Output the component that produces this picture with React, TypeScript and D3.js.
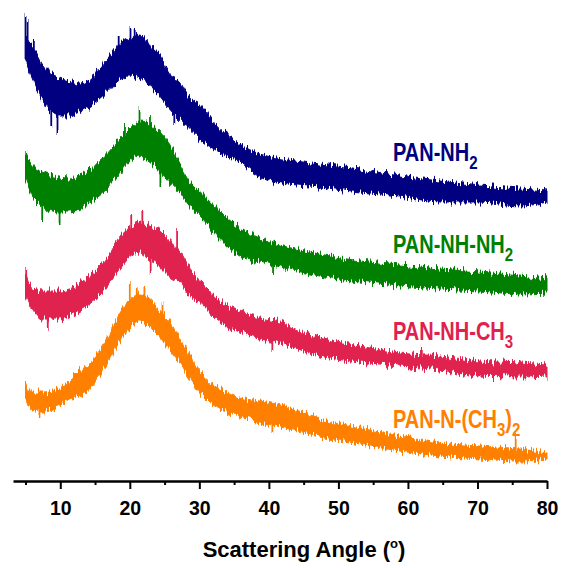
import React, {useEffect, useRef} from 'react';
import * as d3 from 'd3';

// scattering angles (deg) where the band edges were read
const angles = [5, 6, 7.4, 9.9, 11.3, 12.7, 14.2, 15.6, 17.1, 18.5, 19.9, 21.4, 22.8, 24.3, 25.7, 27.1, 28.6, 30, 32.9, 35.8, 38.7, 41.1, 47.3, 53.1, 58.8, 64.6, 70.3, 76.1, 80];

// intensity (a.u., stacked with offsets) - upper / lower edge of each noisy trace
const nh2Top = [446, 436, 418, 404, 401, 398, 401, 414, 426, 438, 444, 448, 438, 428, 408, 401, 384, 378, 354, 338, 328, 324, 318, 313, 306, 301, 296, 293, 291];
const nh2Bot = [419, 401, 381, 364, 364, 368, 374, 381, 391, 401, 404, 401, 394, 384, 371, 361, 351, 341, 328, 318, 304, 298, 293, 288, 284, 278, 278, 274, 278];

const nhnh2Top = [326, 318, 309, 304, 303, 306, 311, 321, 331, 343, 353, 361, 359, 349, 338, 319, 301, 291, 271, 254, 244, 238, 228, 221, 217, 213, 210, 206, 203];
const nhnh2Bot = [301, 284, 274, 268, 268, 271, 278, 284, 294, 306, 318, 324, 319, 309, 298, 288, 274, 264, 241, 224, 218, 214, 204, 198, 194, 191, 189, 186, 187];

const nhch3Top = [209, 194, 191, 191, 193, 198, 206, 214, 228, 244, 254, 259, 256, 251, 241, 231, 214, 203, 181, 171, 164, 161, 144, 136, 129, 126, 121, 119, 117];
const nhch3Bot = [184, 171, 161, 161, 164, 169, 176, 184, 198, 211, 223, 228, 221, 214, 204, 198, 184, 178, 158, 148, 141, 138, 124, 118, 114, 110, 104, 103, 104];

const nch32Top = [98, 89, 89, 94, 101, 111, 118, 131, 148, 168, 181, 188, 184, 171, 161, 144, 128, 111, 94, 84, 81, 78, 64, 54, 46, 39, 36, 33, 29];
const nch32Bot = [81, 71, 69, 74, 81, 84, 91, 104, 121, 138, 151, 158, 154, 144, 131, 118, 101, 88, 71, 64, 58, 54, 44, 36, 29, 24, 21, 19, 21];

// single sharp spikes: [angle, from, to]
const nh2Spikes = [[5.0, 425, 467], [5.3, 420, 462], [6.2, 410, 443], [18.4, 425, 446], [20.1, 430, 455], [20.7, 430, 453], [8.7, 375, 353], [9.6, 378, 349], [26.4, 375, 356], [44, 305, 320]];
const nhnh2Spikes = [[5.1, 305, 329], [21.4, 350, 373], [22.9, 345, 366], [19.3, 340, 356], [9.9, 275, 258], [7.4, 280, 263], [24.4, 315, 296], [40.6, 220, 207]];
const nhch3Spikes = [[5.1, 195, 214], [20.2, 245, 269], [21.8, 250, 270], [26.8, 230, 253], [8.2, 170, 154], [23.0, 225, 208], [62, 122, 134], [40.5, 145, 131]];
const nch32Spikes = [[20.0, 170, 198], [21.0, 178, 193], [22.1, 178, 195], [24.7, 160, 178], [7.0, 76, 64], [75.5, 30, 44], [12.0, 90, 106], [40.5, 60, 48]];

const series = [
  {name: 'nh2', top: nh2Top, bot: nh2Bot, spikes: nh2Spikes, color: '#000080'},
  {name: 'nhnh2', top: nhnh2Top, bot: nhnh2Bot, spikes: nhnh2Spikes, color: '#008000'},
  {name: 'nhch3', top: nhch3Top, bot: nhch3Bot, spikes: nhch3Spikes, color: '#E0214F'},
  {name: 'nch32', top: nch32Top, bot: nch32Bot, spikes: nch32Spikes, color: '#FF8000'},
];

const majorTicks = [10, 20, 30, 40, 50, 60, 70, 80];
const minorTicks = [5, 15, 25, 35, 45, 55, 65, 75];

const font = '"Liberation Sans", Arial, sans-serif';

const App = () => {
  const ref = useRef(null);

  useEffect(() => {
    drawChart();
  });

  function drawChart() {
    const svg = d3.select(ref.current);
    svg.selectAll('*').remove();

    const x = d3.scaleLinear().domain([3.2, 80]).range([13, 547]);
    const y = d3.scaleLinear().domain([0, 481]).range([481, 0]);

    series.forEach(function (s) {
      const pts = angles.map(function (a, i) {
        return {a: a, t: s.top[i], b: s.bot[i]};
      });
      const g = svg.append('g').attr('filter', 'url(#rough)');
      g.append('path')
        .datum(pts)
        .attr('fill', s.color)
        .attr('stroke', s.color)
        .attr('stroke-width', 1)
        .attr('stroke-linejoin', 'round')
        .attr('d', d3.area()
          .curve(d3.curveMonotoneX)
          .x(function (d) { return x(d.a); })
          .y0(function (d) { return y(d.b) - 1; })
          .y1(function (d) { return y(d.t) + 1; })
        );

      g.selectAll('.sp-' + s.name)
        .data(s.spikes)
        .enter()
        .append('line')
        .attr('stroke', s.color)
        .attr('stroke-width', 1.8)
        .attr('x1', function (d) { return x(d[0]); })
        .attr('x2', function (d) { return x(d[0]); })
        .attr('y1', function (d) { return y(d[1]); })
        .attr('y2', function (d) { return y(d[2]); });
    });

    // minor ticks
    svg.append('g')
      .attr('transform', 'translate(0,481)')
      .call(d3.axisBottom(x).tickValues(minorTicks).tickSize(4).tickFormat(function () { return ''; }))
      .call(function (g) { g.select('.domain').remove(); })
      .call(function (g) { g.selectAll('.tick line').attr('stroke', '#000').attr('stroke-width', 2); });

    // major axis
    const ax = svg.append('g')
      .attr('transform', 'translate(0,481)')
      .call(d3.axisBottom(x).tickValues(majorTicks).tickSize(8).tickSizeOuter(0).tickFormat(d3.format('d')));
    ax.select('.domain').attr('stroke', '#000').attr('stroke-width', 2.5);
    ax.selectAll('.tick line').attr('stroke', '#000').attr('stroke-width', 2);
    ax.selectAll('.tick text')
      .attr('y', 20)
      .attr('fill', '#000')
      .style('font-family', font)
      .style('font-weight', 'bold')
      .style('font-size', '19.5px');
  }

  const labelStyle = {fontFamily: font, fontWeight: 'bold', fontSize: 20};
  const sub = {fontSize: 15};

  return (
    <svg width={562} height={568} style={{position: 'absolute', left: 0, top: 0, background: '#fff'}}>
      <defs>
        <filter id="rough" x="-5%" y="-10%" width="110%" height="120%">
          <feTurbulence type="fractalNoise" baseFrequency="0.55 0.02" numOctaves="2" seed="3" result="noise" />
          <feComponentTransfer in="noise" result="vnoise">
            <feFuncG type="linear" slope="0" intercept="0.5" />
          </feComponentTransfer>
          <feDisplacementMap in="SourceGraphic" in2="vnoise" scale="14" xChannelSelector="G" yChannelSelector="R" />
        </filter>
      </defs>
      <g ref={ref}></g>
      <g transform="translate(393,161) scale(1,1.25)" style={labelStyle} fill="#000080">
        <text>PAN-NH<tspan style={sub} dy={6}>2</tspan></text>
      </g>
      <g transform="translate(393,253) scale(1,1.25)" style={labelStyle} fill="#008000">
        <text>PAN-NH-NH<tspan style={sub} dy={6}>2</tspan></text>
      </g>
      <g transform="translate(393,340) scale(1,1.25)" style={labelStyle} fill="#E0214F">
        <text>PAN-NH-CH<tspan style={sub} dy={6}>3</tspan></text>
      </g>
      <g transform="translate(393,428) scale(1,1.25)" style={labelStyle} fill="#FF8000">
        <text>PAN-N-(CH<tspan style={sub} dy={6}>3</tspan><tspan dy={-6}>)</tspan><tspan style={sub} dy={6}>2</tspan></text>
      </g>
      <text x={304} y={557} textAnchor="middle" style={{fontFamily: font, fontWeight: 'bold', fontSize: 22}} fill="#000">
        Scattering Angle (<tspan style={{fontSize: 13}} dy={-9}>o</tspan><tspan dy={9}>)</tspan>
      </text>
    </svg>
  );
};

export default App;
